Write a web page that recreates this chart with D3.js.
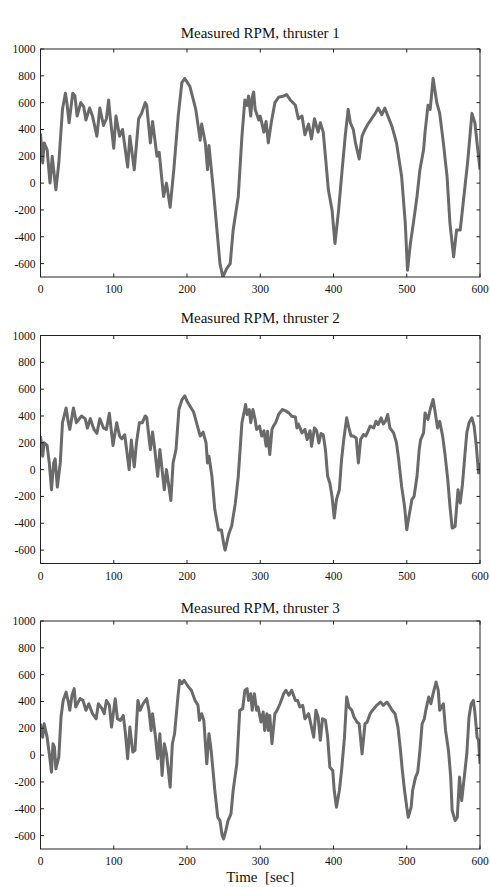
<!DOCTYPE html>
<html lang="en">
<head>
  <meta charset="UTF-8">
  <title>Measured RPM, thrusters 1-3</title>
  <style>
    body {
      margin: 0;
      background-color: white;
      overflow: hidden;
    }

    .frame {
      fill: none;
      stroke: #222;
      stroke-width: 1px;
    }

    .tick {
      stroke: #222;
      stroke-width: 1px;
    }

    .tick-label {
      font-family: "Liberation Serif", "DejaVu Serif", serif;
      font-size: 11.5px;
      fill: #111;
    }

    .title {
      font-family: "Liberation Serif", "DejaVu Serif", serif;
      font-size: 15px;
      fill: #111;
      text-anchor: middle;
    }

    .rpm-line {
      fill: none;
      stroke: #6a6a6a;
      stroke-width: 3px;
      stroke-linejoin: round;
    }
  </style>
</head>
<body>
  <script src="https://d3js.org/d3.v7.min.js"></script>
  <script>
    const width = 490;
    const height = 887;

    const titles = ["Measured RPM, thruster 1", "Measured RPM, thruster 2", "Measured RPM, thruster 3"];
    const xTicks = [0, 100, 200, 300, 400, 500, 600];
    const yTicks = [-600, -400, -200, 0, 200, 400, 600, 800, 1000];
    const xLabel = "Time  [sec]";

    // thruster 1: time (sec) and rpm
    const t1 = [0, 3, 5, 9, 13, 16, 21, 25, 30, 34, 36, 39, 44, 47, 50, 55, 59, 62, 67, 71, 77, 81, 86, 90, 93, 95,
      100, 103, 108, 112, 119, 122, 128, 134, 138, 143, 145, 150, 153, 159, 162, 168, 172, 177, 182, 188, 193, 197,
      204, 212, 218, 220, 225, 228, 230, 236, 245, 249, 254, 259, 263, 270, 275, 279, 282, 284, 287, 289, 291, 293,
      298, 300, 305, 308, 311, 315, 320, 325, 332, 336, 341, 348, 352, 357, 361, 366, 370, 374, 379, 382, 386, 389,
      393, 398, 402, 407, 411, 416, 420, 423, 427, 430, 435, 439, 443, 447, 452, 457, 461, 466, 470, 475, 480, 486,
      493, 498, 501, 505, 509, 514, 518, 523, 525, 529, 532, 536, 541, 545, 550, 555, 559, 564, 568, 573, 577, 583,
      589, 593, 598, 600];
    const rpm1 = [370, 150, 300, 250, 0, 200, -50, 150, 550, 670, 600, 450, 670, 650, 500, 600, 570, 470, 560, 500, 350, 560, 430, 480, 620, 500,
      260, 500, 350, 400, 120, 350, 100, 480, 520, 600, 580, 300, 460, 200, 230, -100, 0, -180, 100, 500, 750, 780,
      720, 550, 320, 440, 300, 100, 280, -50, -600, -700, -640, -600, -350, -100, 350, 620, 580, 650, 500, 640,
      680, 550, 470, 500, 380, 460, 300, 450, 600, 640, 650, 660, 620, 580, 480, 500, 360, 440, 330, 480, 380, 450,
      380, 200, -50, -200, -450, -200, 50, 350, 550, 450, 400, 300, 180, 350, 400, 440, 480, 520, 560, 510, 560, 490,
      420, 300, 50, -300, -650, -450, -300, -100, 100, 250, 380, 580, 550, 780, 600, 520, 300, 50, -300, -550, -350,
      -350, -150, 150, 520, 450, 200, 100];

    // thruster 2
    const t2 = [0, 3, 5, 9, 12, 15, 18, 20, 23, 27, 30, 35, 38, 40, 45, 49, 56, 61, 64, 68, 73, 77, 81, 86, 90, 94,
      99, 104, 108, 111, 115, 121, 124, 128, 131, 135, 139, 143, 145, 150, 153, 156, 160, 163, 166, 169, 172, 178,
      181, 185, 189, 193, 197, 201, 209, 213, 218, 222, 226, 228, 230, 234, 238, 243, 247, 250, 252, 257, 261, 266,
      270, 275, 280, 282, 285, 287, 290, 293, 295, 299, 302, 305, 308, 310, 313, 316, 318, 321, 325, 330, 334, 339,
      343, 348, 350, 352, 357, 361, 364, 368, 370, 374, 377, 380, 383, 386, 389, 392, 395, 398, 401, 404, 408, 411,
      414, 418, 421, 424, 427, 431, 434, 437, 441, 444, 447, 450, 455, 458, 461, 465, 468, 471, 474, 477, 482, 486,
      489, 493, 497, 500, 503, 507, 510, 514, 517, 519, 523, 525, 529, 532, 536, 539, 542, 545, 549, 552, 556, 559,
      562, 566, 570, 573, 576, 580, 582, 585, 589, 592, 595, 598, 600];
    const rpm2 = [250, 100, 200, 180, 50, -150, 50, 80, -130, 50, 350, 460, 350, 300, 460, 350, 400, 380, 310, 380, 300, 270, 380, 310, 300, 420,
      180, 350, 250, 230, 260, 0, 220, 20, 200, 350, 350, 400, 390, 150, 280, 150, -50, 150, 0, -150, 0, -230,
      50, 150, 450, 520, 550, 500, 430, 350, 250, 280, 200, 50, 100, -50, -300, -450, -450, -550, -600, -480, -420, -250,
      -50, 350, 485, 410, 448, 350, 448, 374, 300, 324, 250, 290, 175, 286, 112, 300, 324, 350, 410, 448, 440, 423,
      398, 393, 311, 340, 274, 300, 224, 290, 174, 311, 290, 199, 270, 260, 150, -50, -100, -200, -361, -224, -150, 75,
      224, 386, 311, 250, 250, 236, 50, 224, 261, 250, 286, 324, 311, 361, 336, 386, 340, 361, 411, 311, 274, 199,
      75, -125, -274, -448, -349, -224, -200, -50, 150, 224, 274, 423, 374, 448, 523, 423, 311, 360, 250, 125, -75, -274,
      -436, -423, -150, -249, -112, 150, 274, 349, 386, 324, 174, -25, 50];

    // thruster 3
    const t3 = [0, 3, 5, 9, 12, 15, 17, 19, 21, 25, 28, 31, 35, 38, 40, 43, 46, 48, 54, 58, 62, 66, 71, 76, 79, 84,
      87, 90, 94, 97, 102, 105, 109, 113, 116, 119, 122, 126, 129, 133, 136, 140, 145, 148, 151, 153, 157, 160, 163,
      166, 169, 172, 177, 180, 183, 188, 190, 193, 196, 202, 206, 211, 215, 217, 220, 223, 227, 230, 233, 238, 242,
      245, 248, 250, 253, 256, 260, 263, 268, 272, 276, 279, 282, 284, 287, 289, 292, 295, 297, 301, 304, 306, 309,
      311, 313, 316, 320, 323, 327, 332, 335, 339, 343, 348, 351, 354, 358, 361, 366, 369, 373, 376, 379, 382, 385,
      389, 392, 395, 399, 401, 404, 408, 411, 415, 418, 421, 425, 428, 432, 435, 439, 443, 446, 450, 455, 459, 464,
      468, 473, 476, 480, 484, 488, 491, 494, 497, 500, 502, 506, 508, 512, 515, 518, 521, 524, 526, 530, 533, 536,
      540, 543, 545, 550, 553, 557, 560, 562, 566, 569, 572, 575, 578, 582, 585, 588, 591, 593, 596, 598, 600];
    const rpm3 = [234, 134, 234, 134, 10, -127, 85, 60, -102, -15, 284, 408, 470, 396, 334, 446, 496, 359, 421, 408, 334, 383, 309, 271, 383, 346,
      309, 408, 371, 209, 421, 271, 259, 296, 159, -27, 209, 22, 35, 408, 334, 383, 421, 334, 184, 309, 134, -27, 159,
      -152, 85, 10, -239, 85, 159, 458, 558, 533, 558, 508, 483, 408, 371, 259, 309, 259, -65, 159, 35, -264, -463,
      -488, -600, -625, -563, -488, -438, -264, -65, 334, 346, 483, 496, 408, 458, 334, 458, 334, 359, 247, 321, 184, 309,
      184, 296, 85, 309, 334, 383, 458, 483, 446, 483, 408, 408, 359, 371, 271, 309, 234, 134, 334, 284, 110, 271,
      259, 134, -90, -115, -264, -388, -264, -115, 134, 433, 359, 334, 284, 247, 234, 10, 234, 247, 309, 346, 371, 396,
      371, 396, 371, 334, 309, 209, 60, -115, -264, -388, -463, -388, -264, -164, -127, 35, 234, 271, 334, 433, 383, 458,
      545, 483, 334, 383, 184, 35, -164, -413, -488, -463, -164, -339, -189, 10, 284, 383, 408, 321, 134, 110, -65, -15];

    const series = [
      { time: t1, rpm: rpm1 },
      { time: t2, rpm: rpm2 },
      { time: t3, rpm: rpm3 }
    ];

    // panel layout
    const left = 40.5;
    const right = 480;
    const panelTops = [49, 335.5, 621];
    const panelHeight = 228;
    const titleYs = [38, 323, 613];
    const tickLen = 3.5;

    const svg = d3.select("body").append("svg")
      .attr("width", width)
      .attr("height", height);

    const x = d3.scaleLinear()
      .domain([0, 600])
      .range([left, right]);

    series.forEach(function(s, i) {
      const top = panelTops[i];
      const bottom = top + panelHeight;

      const y = d3.scaleLinear()
        .domain([-700, 1000])
        .range([bottom, top]);

      const g = svg.append("g");

      const clipId = "clip" + i;
      g.append("clipPath")
        .attr("id", clipId)
        .append("rect")
        .attr("x", left)
        .attr("y", top)
        .attr("width", right - left)
        .attr("height", panelHeight);

      const points = s.time.map((t, k) => [t, s.rpm[k]]);
      const line = d3.line()
        .x(d => x(d[0]))
        .y(d => y(d[1]));

      g.append("path")
        .datum(points)
        .attr("class", "rpm-line")
        .attr("clip-path", "url(#" + clipId + ")")
        .attr("d", line);

      g.append("rect")
        .attr("class", "frame")
        .attr("x", left)
        .attr("y", top)
        .attr("width", right - left)
        .attr("height", panelHeight);

      // inward ticks, all four sides
      xTicks.forEach(function(v) {
        g.append("line").attr("class", "tick")
          .attr("x1", x(v)).attr("x2", x(v))
          .attr("y1", bottom).attr("y2", bottom - tickLen);
        g.append("line").attr("class", "tick")
          .attr("x1", x(v)).attr("x2", x(v))
          .attr("y1", top).attr("y2", top + tickLen);
        g.append("text").attr("class", "tick-label")
          .attr("x", x(v))
          .attr("y", bottom + 16)
          .attr("text-anchor", "middle")
          .text(v);
      });

      yTicks.forEach(function(v) {
        g.append("line").attr("class", "tick")
          .attr("x1", left).attr("x2", left + tickLen)
          .attr("y1", y(v)).attr("y2", y(v));
        g.append("line").attr("class", "tick")
          .attr("x1", right).attr("x2", right - tickLen)
          .attr("y1", y(v)).attr("y2", y(v));
        g.append("text").attr("class", "tick-label")
          .attr("x", left - 5)
          .attr("y", y(v) + 4)
          .attr("text-anchor", "end")
          .text(v);
      });

      g.append("text")
        .attr("class", "title")
        .attr("x", (left + right) / 2)
        .attr("y", titleYs[i])
        .text(titles[i]);
    });

    svg.append("text")
      .attr("class", "title")
      .attr("x", (left + right) / 2)
      .attr("y", 882)
      .style("white-space", "pre")
      .text(xLabel);
  </script>
</body>
</html>
